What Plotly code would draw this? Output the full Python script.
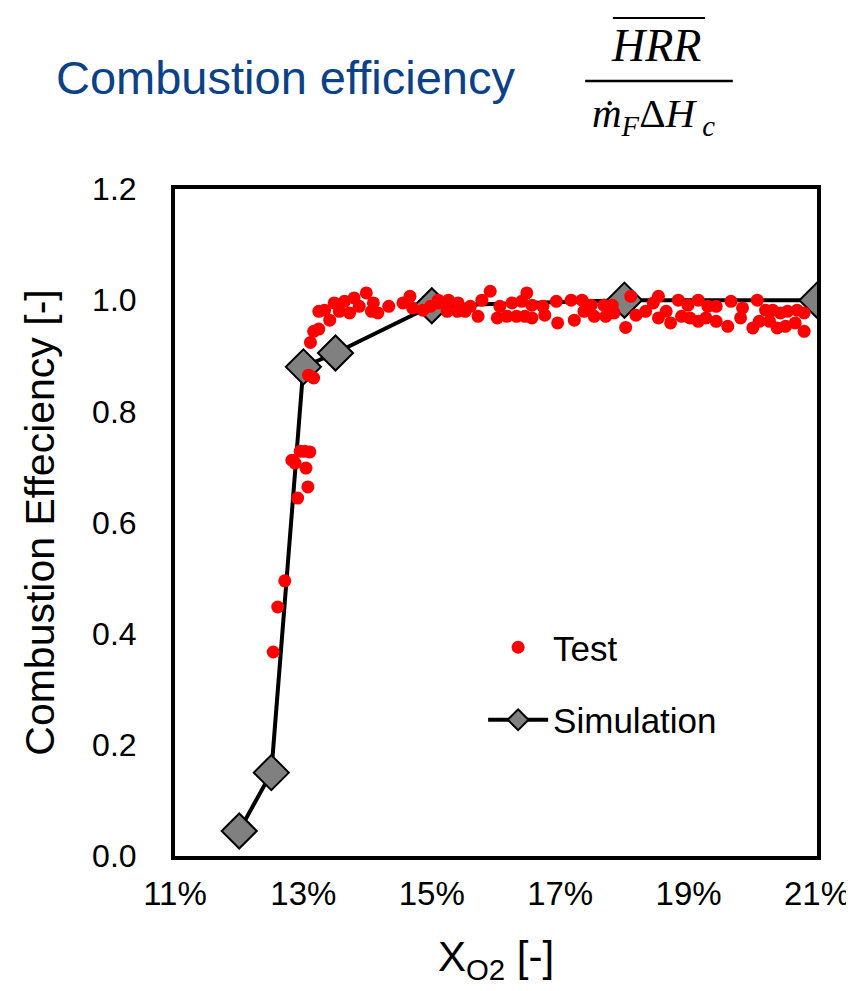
import plotly.graph_objects as go

# Simulation (diamonds + line)
sim_x = [0.12, 0.125, 0.13, 0.135, 0.15, 0.18, 0.21]
sim_y = [0.045, 0.15, 0.88, 0.905, 0.99, 1.0, 1.0]

# Test points, x in percent of O2
test_x_pct = [
    12.53, 12.60, 12.71, 12.91, 13.07, 13.04, 12.82, 12.87, 12.95, 13.02, 13.10, 13.08, 13.16, 13.11, 13.16, 13.24,
    13.24, 13.33, 13.41, 13.48, 13.56, 13.64, 13.72, 13.79, 13.87, 13.98, 14.06, 14.09, 14.16, 14.33, 14.55, 14.66,
    14.70, 14.86, 15.10, 15.24,
    14.98, 15.10, 15.26, 15.24, 15.41, 15.40, 15.52, 15.60, 15.72, 15.78, 15.91, 16.02, 16.06, 16.17, 16.25, 16.32,
    16.40, 16.48, 16.45, 16.56, 16.56, 16.73, 16.76, 16.94, 16.96, 17.17, 17.22, 17.34, 17.37, 17.48, 17.53, 17.68,
    17.71, 17.81, 17.84, 18.10, 18.02, 18.18, 18.33, 18.45, 18.53, 18.53, 18.65, 18.72, 18.84, 18.89, 18.99, 19.02,
    19.15, 19.15, 19.30, 19.27, 19.43, 19.43, 19.61, 19.66, 19.84, 19.81, 20.07, 20.00, 20.10, 20.20, 20.26, 20.31,
    20.38, 20.43, 20.54, 20.51, 20.69, 20.66, 20.80, 20.80,
]
test_y = [
    0.367, 0.448, 0.495, 0.644, 0.664, 0.698, 0.712, 0.707, 0.728, 0.728, 0.727, 0.865, 0.860, 0.924, 0.944, 0.948,
    0.980, 0.982, 0.964, 0.995, 0.980, 0.998, 0.977, 1.004, 0.989, 1.013, 0.980, 0.995, 0.977, 0.989, 0.995, 1.007,
    0.986, 0.982, 0.995, 0.982,
    0.989, 1.000, 1.000, 0.980, 0.995, 0.980, 0.980, 0.989, 0.971, 1.000, 1.016, 0.968, 0.989, 0.971, 0.995, 0.971,
    0.998, 1.013, 0.971, 0.991, 0.968, 0.989, 0.973, 0.998, 0.959, 1.000, 0.964, 1.000, 0.980, 0.991, 0.971, 0.991,
    0.971, 0.991, 0.977, 1.007, 0.951, 0.973, 0.980, 0.995, 1.007, 0.968, 0.980, 0.959, 1.000, 0.971, 0.991, 0.968,
    1.000, 0.962, 0.989, 0.968, 0.989, 0.962, 0.953, 0.998, 0.986, 0.968, 1.000, 0.950, 0.962, 0.982, 0.962, 0.982,
    0.950, 0.977, 0.980, 0.953, 0.982, 0.959, 0.977, 0.944,
]

x_ticks = [0.11, 0.13, 0.15, 0.17, 0.19, 0.21]
y_ticks = [0.0, 0.2, 0.4, 0.6, 0.8, 1.0, 1.2]

W, H = 854, 991
L, R, T, B = 167, 815, 181, 848


def px(x):
    return (x - L) / (R - L)


def py(y):
    return (B - y) / (B - T)


SANS = "Liberation Sans, Arial, sans-serif"
SERIF = "Liberation Serif, Times New Roman, serif"

fig = go.Figure()

fig.add_trace(go.Scatter(
    x=sim_x, y=sim_y,
    mode='lines+markers',
    name='Simulation',
    legendgroup='sim',
    legendrank=2,
    line=dict(color='black', width=4),
    marker=dict(symbol='diamond', size=27, color='#808080',
                line=dict(color='black', width=2)),
))

fig.add_trace(go.Scatter(
    x=[v / 100 for v in test_x_pct], y=test_y,
    mode='markers',
    name='Test',
    legendgroup='test',
    legendrank=1,
    marker=dict(size=13, color='#ff0000'),
))

fig.update_layout(
    width=W, height=H,
    margin=dict(l=L, r=W - R, t=T, b=H - B),
    paper_bgcolor='white',
    plot_bgcolor='white',
    font=dict(family=SANS, color='black'),
    legend=dict(
        x=px(478), y=py(610), xanchor='left', yanchor='top',
        font=dict(size=35, family=SANS),
        itemwidth=60,
        traceorder='grouped', tracegroupgap=24,
        bgcolor='rgba(0,0,0,0)',
    ),
)

fig.update_xaxes(
    range=[0.11, 0.21],
    tickvals=x_ticks,
    tickformat='.0%',
    showgrid=False, zeroline=False,
    showline=True, linecolor='black', linewidth=4, mirror=True,
    ticks='outside', ticklen=5, tickcolor='rgba(0,0,0,0)',
    tickfont=dict(size=33),
    title=dict(text='X<sub>O2</sub> [-]', font=dict(size=42), standoff=32),
)

fig.update_yaxes(
    range=[0, 1.2],
    tickvals=y_ticks,
    tickformat='.1f',
    showgrid=False, zeroline=False,
    showline=True, linecolor='black', linewidth=4, mirror=True,
    ticks='outside', ticklen=28, tickcolor='rgba(0,0,0,0)',
    tickfont=dict(size=32),
    title=dict(text='Combustion Effeciency [-]', font=dict(size=41), standoff=26),
)

# Header text and formula
fig.add_annotation(
    text='Combustion efficiency', xref='paper', yref='paper',
    x=px(45), y=py(69), xanchor='left', yanchor='middle', showarrow=False,
    font=dict(size=47, color='#0b4287', family=SANS),
)
fig.add_annotation(
    text='<i>HRR</i>', xref='paper', yref='paper',
    x=px(652), y=py(38), xanchor='center', yanchor='middle', showarrow=False,
    font=dict(size=46, family=SERIF, color='black'),
)
fig.add_annotation(
    text='<i>ṁ</i><sub><i>F</i></sub>Δ<i>H</i><sub> <i>c</i></sub>', xref='paper', yref='paper',
    x=px(650), y=py(108), xanchor='center', yanchor='middle', showarrow=False,
    font=dict(size=41, family=SERIF, color='black'),
)
fig.add_shape(type='line', xref='paper', yref='paper',
              x0=px(609), x1=px(702), y0=py(10), y1=py(10),
              line=dict(color='black', width=2))
fig.add_shape(type='line', xref='paper', yref='paper',
              x0=px(581), x1=px(730), y0=py(73), y1=py(73),
              line=dict(color='black', width=2.5))

fig.write_html("out.html")
